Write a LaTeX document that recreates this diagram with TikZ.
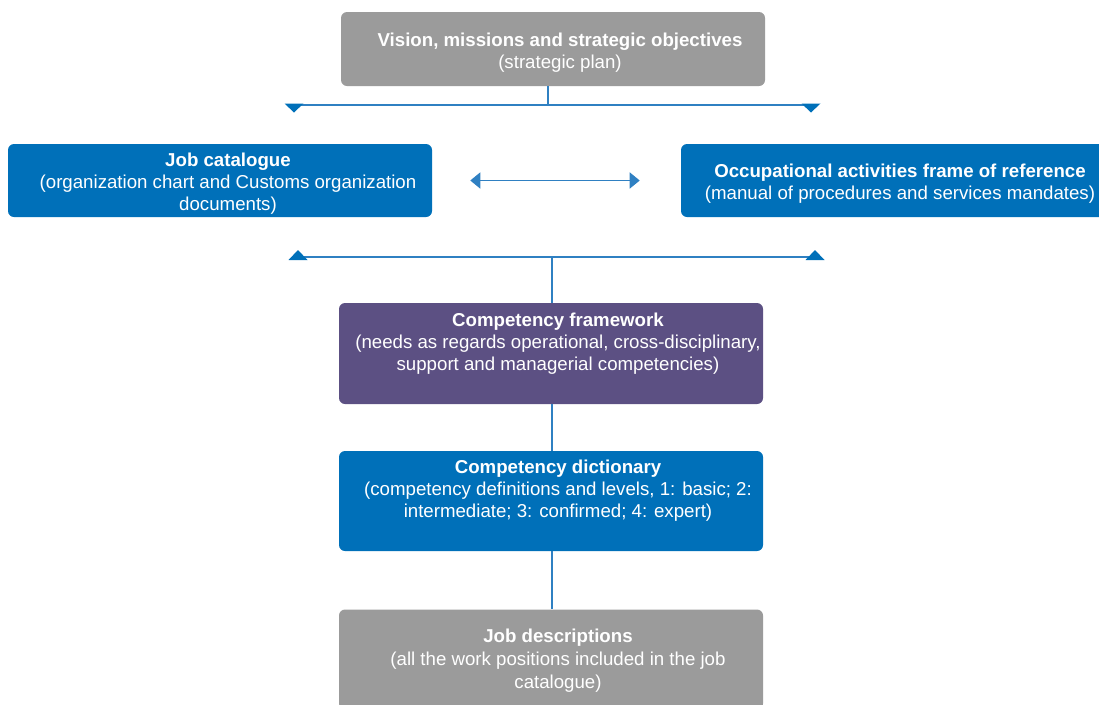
\documentclass[tikz,border=0pt]{standalone}
\usepackage{fontspec}
\setmainfont{Liberation Sans}
\usetikzlibrary{arrows.meta,calc}
\definecolor{boxblue}{HTML}{0070B9}
\definecolor{boxgray}{HTML}{9B9B9B}
\definecolor{boxpurple}{HTML}{5C5083}
\definecolor{linkblue}{HTML}{2F80C2}
\begin{document}
\begin{tikzpicture}[x=0.75pt,y=-0.75pt,
  panel/.style={draw=none, rounded corners=4.5pt, minimum width=318pt, inner sep=0pt},
  caption/.style={anchor=north, inner sep=0pt, align=center, text=white,
    font=\fontsize{14}{16.5}\selectfont},
  link/.style={draw=linkblue, line width=1.1pt},
  tipdown/.style={fill=boxblue},
]
\useasboundingbox (0,0) rectangle (1099,704);

% boxes
\node[panel, fill=boxgray, minimum height=55.5pt] (vision) at (553,49) {};
\node[panel, fill=boxblue, minimum height=54.75pt] (jobcat) at (220,180.5) {};
\node[panel, fill=boxblue, minimum height=54.75pt] (occup) at (893,180.5) {};
\node[panel, fill=boxpurple, minimum height=75.75pt] (compfw) at (551,353.5) {};
\node[panel, fill=boxblue, minimum height=75pt] (compdict) at (551,501) {};
\node[panel, fill=boxgray, minimum height=75pt] (jobdesc) at (551,659.5) {};

% captions
\node[caption] (visiontxt) at (560,33) {\textbf{Vision, missions and strategic objectives}\\(strategic plan)};
\node[caption] (jobcattxt) at (228,153) {\textbf{Job catalogue}\\(organization chart and Customs organization\\documents)};
\node[caption] (occuptxt) at (900,163.5) {\textbf{Occupational activities frame of reference}\\(manual of procedures and services mandates)};
\node[caption] (compfwtxt) at (558,313) {\textbf{Competency framework}\\(needs as regards operational, cross-disciplinary,\\support and managerial competencies)};
\node[caption] (compdicttxt) at (558,460) {\textbf{Competency dictionary}\\(competency definitions and levels, 1: basic; 2:\\intermediate; 3: confirmed; 4: expert)};
\node[caption, font=\fontsize{14}{17.2}\selectfont] (jobdesctxt) at (558,629) {\textbf{Job descriptions}\\(all the work positions included in the job\\catalogue)};

% upper distribution bar
\coordinate (ustem) at (548,105);
\coordinate (uleft) at (294,105);
\coordinate (uright) at (811,105);
\draw[link] (ustem |- vision.south) -- (ustem);
\draw[link] (uleft) -- (uright);
\fill[tipdown] ($(uleft)+(-9.5,-1.5)$) -- ++(19,0) -- ++(-9.5,9) -- cycle;
\fill[tipdown] ($(uright)+(-9.5,-1.5)$) -- ++(19,0) -- ++(-9.5,9) -- cycle;

% two-way link between the reference documents
\draw[link, {Triangle[length=7.5pt,width=12pt]}-{Triangle[length=7.5pt,width=12pt]},
  shorten <=28.5pt, shorten >=30.75pt, draw=linkblue, fill=boxblue] (jobcat.east) -- (occup.west);

% lower gathering bar
\coordinate (lleft) at (298,257);
\coordinate (lright) at (815,257);
\coordinate (lstem) at (552,257);
\draw[link] (lleft) -- (lright);
\draw[link] (lstem) -- (lstem |- compfw.north);
\fill[tipdown] ($(lleft)+(-9.5,3)$) -- ++(19,0) -- ++(-9.5,-10) -- cycle;
\fill[tipdown] ($(lright)+(-9.5,3)$) -- ++(19,0) -- ++(-9.5,-10) -- cycle;

% vertical chain
\draw[link] (lstem |- compfw.south) -- (lstem |- compdict.north);
\draw[link] (lstem |- compdict.south) -- (lstem |- jobdesc.north);
\end{tikzpicture}
\end{document}
